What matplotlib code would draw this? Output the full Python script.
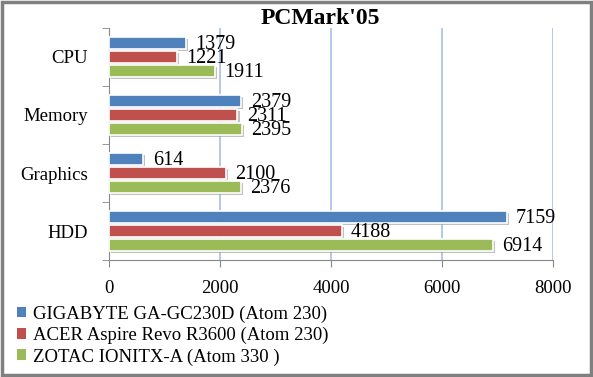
import matplotlib
matplotlib.use("Agg")
import matplotlib.pyplot as plt
import matplotlib.patheffects as pe
from matplotlib.patches import Rectangle, Patch
import numpy as np

categories = ["HDD", "Graphics", "Memory", "CPU"]
series_names = [
    "GIGABYTE GA-GC230D (Atom 230)",
    "ACER Aspire Revo R3600 (Atom 230)",
    "ZOTAC IONITX-A (Atom 330 )",
]
gigabyte = [7159, 614, 2379, 1379]
acer = [4188, 2100, 2311, 1221]
zotac = [6914, 2376, 2395, 1911]
colors = ["#4F81BD", "#C0504D", "#9BBB59"]

plt.rcParams["font.family"] = ["Liberation Serif", "DejaVu Serif"]

fig = plt.figure(figsize=(5.93, 3.77), dpi=100)
ax = fig.add_axes([0.184, 0.31, 0.749, 0.616])

y = np.arange(len(categories))
h = 0.2
offsets = [h + 0.04, 0, -(h + 0.04)]
shadow = [pe.SimplePatchShadow(offset=(1.5, -1.5), shadow_rgbFace="#999999", alpha=0.6), pe.Normal()]

for vals, off, c in zip([gigabyte, acer, zotac], offsets, colors):
    bars = ax.barh(y + off, vals, height=h, color=c, edgecolor="white", linewidth=1.2, zorder=3)
    for b in bars:
        b.set_path_effects(shadow)
    for yi, v in zip(y + off, vals):
        ax.text(v + 170, yi - 0.03, str(v), va="center", ha="left", fontsize=14.5, zorder=4)

ax.set_xlim(0, 8000)
ax.set_ylim(-0.5, 3.5)
ax.set_xticks([0, 2000, 4000, 6000, 8000])
ax.set_yticks(y)
ax.set_yticklabels(categories, fontsize=13.5)
ax.set_yticks(np.arange(-0.5, 4, 1), minor=True)
ax.tick_params(axis="y", which="major", length=0, pad=15)
ax.tick_params(axis="y", which="minor", length=5, color="#888888")
ax.tick_params(axis="x", length=5, color="#888888", labelsize=13.5, pad=9)
ax.grid(axis="x", color="#A9BFE6", linewidth=1.2, zorder=0)
for s in ["top", "right"]:
    ax.spines[s].set_visible(False)
for s in ["left", "bottom"]:
    ax.spines[s].set_color("#888888")

fig.text(0.54, 0.95, "PCMark'05", ha="center", va="center", fontsize=17, fontweight="bold")

handles = [Patch(facecolor=c, edgecolor="none") for c in colors]
ax.legend(handles, series_names, loc="upper left", bbox_to_anchor=(0.028, 0.19),
          bbox_transform=fig.transFigure, frameon=False, fontsize=13.5,
          handlelength=0.5, handleheight=0.5, handletextpad=0.4,
          labelspacing=0.22, borderaxespad=0, borderpad=0)

fig.patches.append(Rectangle((0.004, 0.006), 0.992, 0.988, transform=fig.transFigure,
                             fill=False, edgecolor="#808080", linewidth=2.5))

fig.savefig("out.png", dpi=100)
